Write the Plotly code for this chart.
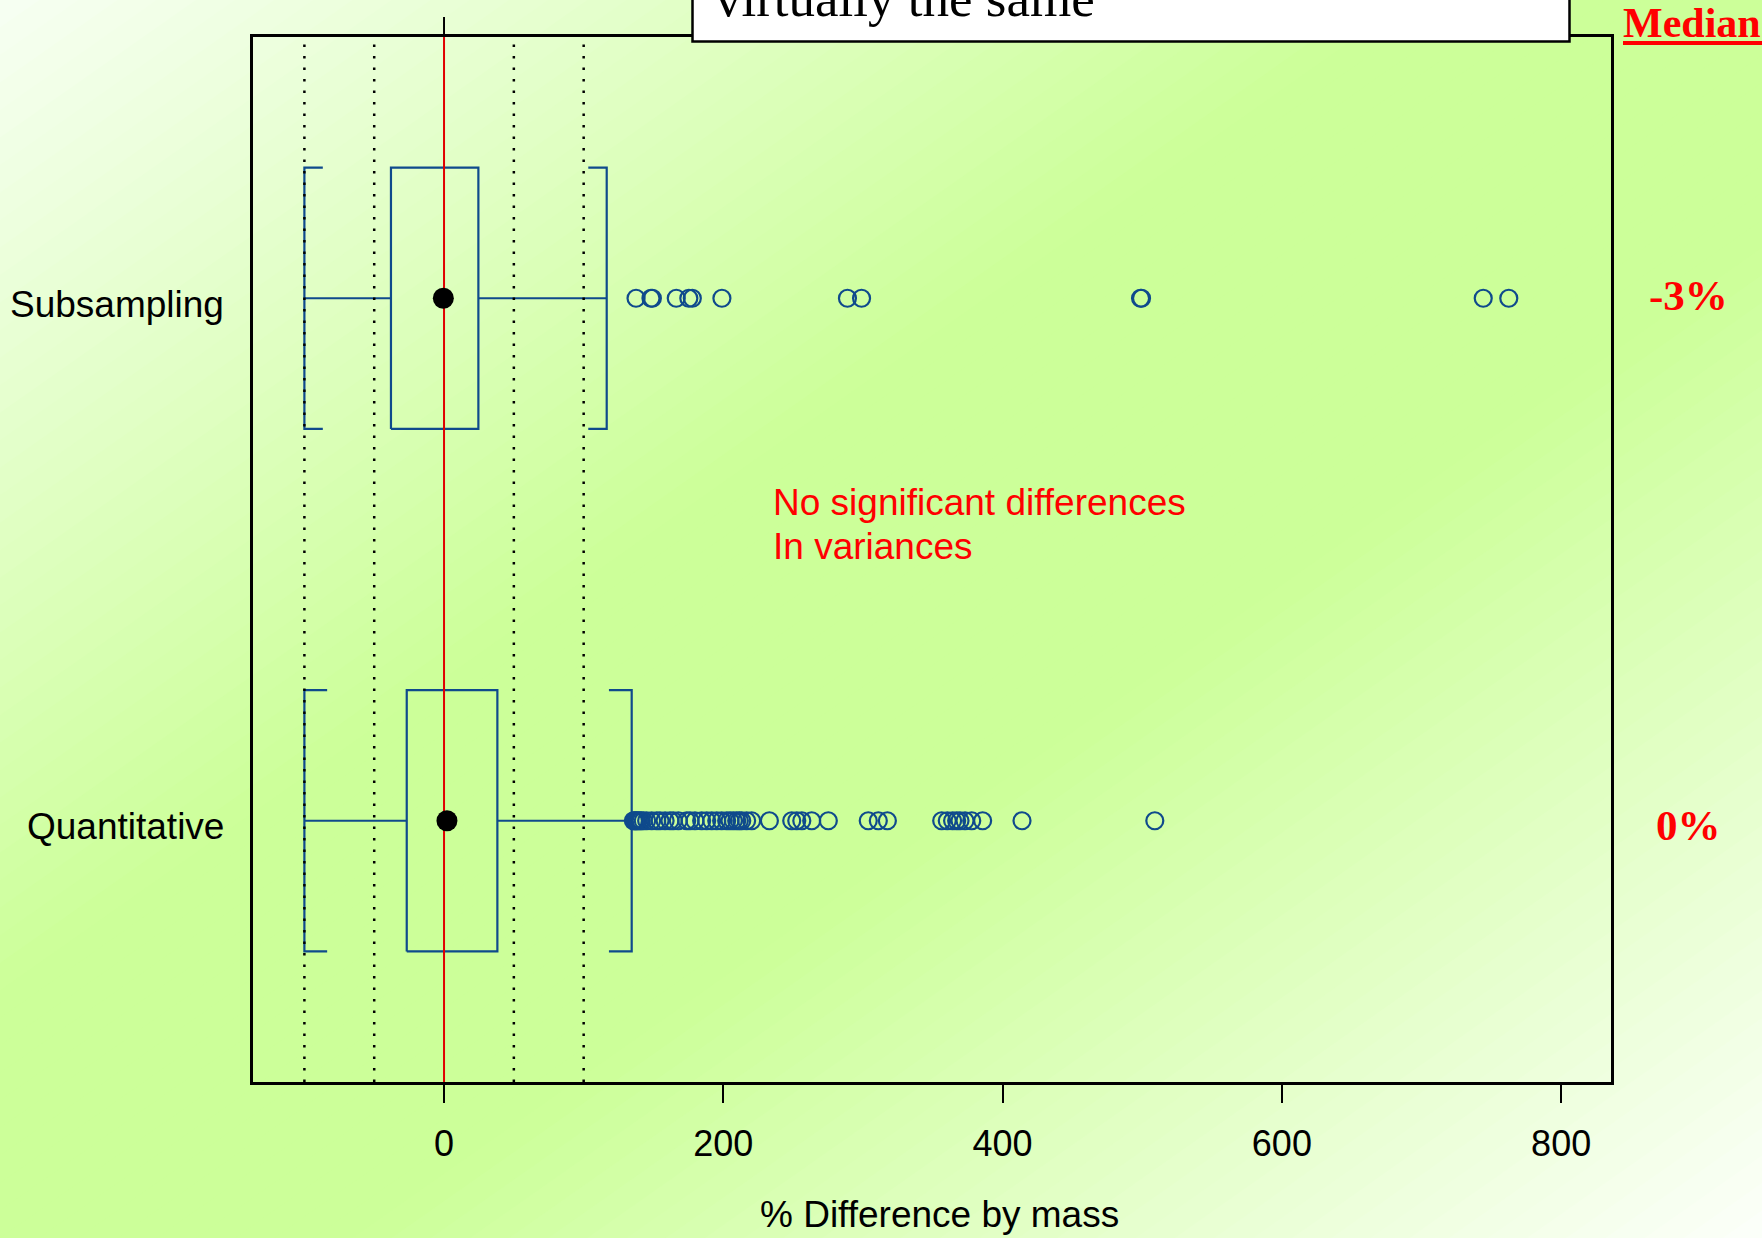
import plotly.graph_objects as go

# ---------------- data ----------------
groups = ["Quantitative", "Subsampling"]
group_pos = [1, 2]
whisker_lo = [-100.0, -100.0]
q1 = [-26.7, -38.0]
median = [2.1, -0.5]
q3 = [38.2, 24.6]
whisker_hi = [134.4, 116.5]
median_labels = ["0%", "-3%"]

quant_outliers = [135.6, 136.5, 137.2, 138.0, 139.0, 140.3, 141.2, 142.7, 145.1, 148.7,
                  152.3, 154.7, 158.3, 161.8, 164.2, 167.8, 173.8, 176.2, 179.7, 184.5,
                  188.1, 191.7, 195.3, 198.8, 202.4, 204.8, 207.2, 209.6, 211.5, 213.2,
                  216.7, 220.3, 233.0, 249.0, 252.6, 256.2, 263.3, 275.2, 303.8, 311.0,
                  317.5, 356.4, 360.4, 364.2, 367.1, 369.5, 373.1, 377.9, 385.7, 413.9,
                  509.0]
sub_outliers = [137.5, 148.2, 149.2, 166.3, 175.3, 177.8, 199.0, 288.9, 299.0,
                498.8, 499.5, 744.2, 762.5]
outliers = [quant_outliers, sub_outliers]

ref_lines = [-100, -50, 50, 100]
x_ticks = [0, 200, 400, 600, 800]
x_tick_text = ["0", "200", "400", "600", "800"]

# ---------------- style ----------------
W, H = 1762, 1238
ML, MR, MT, MB = 253, 151, 37, 156
PW, PH = W - ML - MR, H - MT - MB
X_RANGE = [-136.8, 835.7]
Y_RANGE = [0.5, 2.5]
BLUE = "#0F4A8C"
BOX_HALF = 0.25
STAPLE_LEN = [16.3, 13.2]
SANS = "Liberation Sans, Arial, sans-serif"
SERIF = "Liberation Serif, Times New Roman, serif"


def xp(px):
    return (px - ML) / PW


def yp(py):
    return (MT + PH - py) / PH


fig = go.Figure()

# ---------- background gradient (diagonal) ----------
stops = [(0.0, (247, 255, 243)), (0.40, (204, 255, 153)),
         (0.60, (204, 255, 153)), (1.0, (252, 255, 250))]


def grad_color(s):
    for (s0, c0), (s1, c1) in zip(stops[:-1], stops[1:]):
        if s <= s1:
            f = (s - s0) / (s1 - s0) if s1 > s0 else 0
            return "rgb(%d,%d,%d)" % tuple(round(a + (b - a) * f) for a, b in zip(c0, c1))
    return "rgb(%d,%d,%d)" % stops[-1][1]


N = 90
shapes = []
for k in range(N):
    s0 = k / N
    s1 = (k + 1) / N
    c0 = 2 * s0 if k > 0 else -0.5
    c1 = 2 * s1 + 0.01 if k < N - 1 else 2.5
    pts = [(W * (c0 + 2), -2 * H), (-2 * W, H * (c0 + 2)),
           (-2 * W, H * (c1 + 2)), (W * (c1 + 2), -2 * H)]
    path = "M " + " L ".join("%.5f,%.5f" % (xp(a), yp(b)) for a, b in pts) + " Z"
    shapes.append(dict(type="path", path=path, xref="paper", yref="paper",
                       fillcolor=grad_color((s0 + s1) / 2), line=dict(width=0),
                       layer="below"))

# ---------- boxes ----------
for i, g in enumerate(groups):
    y = group_pos[i]
    lo, a, m, b, hi = whisker_lo[i], q1[i], median[i], q3[i], whisker_hi[i]
    sl = STAPLE_LEN[i]
    bx = [a, b, b, a, a, None, lo, a, None, b, hi, None,
          lo + sl, lo, lo, lo + sl, None, hi - sl, hi, hi, hi - sl]
    by = [y - BOX_HALF, y - BOX_HALF, y + BOX_HALF, y + BOX_HALF, y - BOX_HALF, None,
          y, y, None, y, y, None,
          y + BOX_HALF, y + BOX_HALF, y - BOX_HALF, y - BOX_HALF, None,
          y + BOX_HALF, y + BOX_HALF, y - BOX_HALF, y - BOX_HALF]
    fig.add_trace(go.Scatter(x=bx, y=by, mode="lines",
                             line=dict(color=BLUE, width=2.2), hoverinfo="skip"))
    fig.add_trace(go.Scatter(x=outliers[i], y=[y] * len(outliers[i]), mode="markers",
                             marker=dict(symbol="circle-open", size=17,
                                         color=BLUE, line=dict(width=2.2, color=BLUE))))

# ---------- reference lines ----------
rx, ry = [], []
for v in ref_lines:
    rx += [v, v, None]
    ry += [Y_RANGE[0], Y_RANGE[1], None]
fig.add_trace(go.Scatter(x=rx, y=ry, mode="lines",
                         line=dict(color="black", width=2.5, dash="2.5px,9px"),
                         hoverinfo="skip"))
fig.add_trace(go.Scatter(x=[0, 0], y=Y_RANGE, mode="lines",
                         line=dict(color="#E00000", width=2), hoverinfo="skip"))

# ---------- medians ----------
fig.add_trace(go.Scatter(x=median, y=group_pos, mode="markers",
                         marker=dict(symbol="circle", size=21, color="black")))

# black stub above frame at 0
shapes.append(dict(type="line", xref="x", yref="paper", x0=0, x1=0,
                   y0=1.0, y1=yp(17), line=dict(color="black", width=2)))

# title box (cut off at top)
shapes.append(dict(type="rect", xref="paper", yref="paper",
                   x0=xp(692.5), x1=xp(1569.5), y0=yp(41.5), y1=yp(-20),
                   fillcolor="white", line=dict(color="black", width=2.5)))
# underline for "Median"
shapes.append(dict(type="line", xref="paper", yref="paper",
                   x0=xp(1623), x1=xp(1770), y0=yp(43), y1=yp(43),
                   line=dict(color="#FF0000", width=4)))

annotations = [
    dict(text="virtually the same", xref="paper", yref="paper", x=xp(713), y=yp(29),
         xanchor="left", yanchor="bottom", showarrow=False,
         font=dict(family=SERIF, size=53, color="black")),
    dict(text="<b>Median</b>", xref="paper", yref="paper", x=xp(1621), y=yp(48),
         xanchor="left", yanchor="bottom", showarrow=False,
         font=dict(family=SERIF, size=42, color="#FF0000")),
    dict(text="No significant differences", xref="paper", yref="paper",
         x=xp(771), y=yp(502), xanchor="left", yanchor="middle", showarrow=False,
         font=dict(family=SANS, size=37, color="#FF0000")),
    dict(text="In variances", xref="paper", yref="paper",
         x=xp(771), y=yp(546), xanchor="left", yanchor="middle", showarrow=False,
         font=dict(family=SANS, size=37, color="#FF0000")),
    dict(text="% Difference by mass", xref="paper", yref="paper",
         x=xp(939), y=yp(1214), xanchor="center", yanchor="middle", showarrow=False,
         font=dict(family=SANS, size=37, color="black")),
]
for i, g in enumerate(groups):
    annotations.append(dict(text=g, xref="paper", yref="y", x=xp(226), y=group_pos[i],
                            yshift=-6, xanchor="right", yanchor="middle",
                            showarrow=False,
                            font=dict(family=SANS, size=37, color="black")))
    annotations.append(dict(text="<b>%s</b>" % median_labels[i], xref="paper", yref="y",
                            x=xp(1688), y=group_pos[i], yshift=(-5 if i == 0 else 3),
                            xanchor="center", yanchor="middle", showarrow=False,
                            font=dict(family=SERIF, size=43, color="#FF0000")))

fig.update_layout(
    width=W, height=H, autosize=False,
    margin=dict(l=ML, r=MR, t=MT, b=MB, pad=0),
    paper_bgcolor="rgb(225,255,200)",
    plot_bgcolor="rgba(0,0,0,0)",
    showlegend=False,
    shapes=shapes,
    annotations=annotations,
    xaxis=dict(range=X_RANGE, tickvals=x_ticks, ticktext=x_tick_text,
               ticks="outside", ticklen=18, tickwidth=1.5, tickcolor="black",
               tickfont=dict(family=SANS, size=36, color="black"),
               showline=True, mirror=True, linecolor="black", linewidth=2.5,
               showgrid=False, zeroline=False, ticklabelstandoff=10),
    yaxis=dict(range=Y_RANGE, showticklabels=False, ticks="",
               showline=True, mirror=True, linecolor="black", linewidth=2.5,
               showgrid=False, zeroline=False),
)

fig.write_html("out.html", config={"displayModeBar": False},
               post_script="document.body.style.margin='0px';"
                           "document.body.style.overflow='hidden';")
